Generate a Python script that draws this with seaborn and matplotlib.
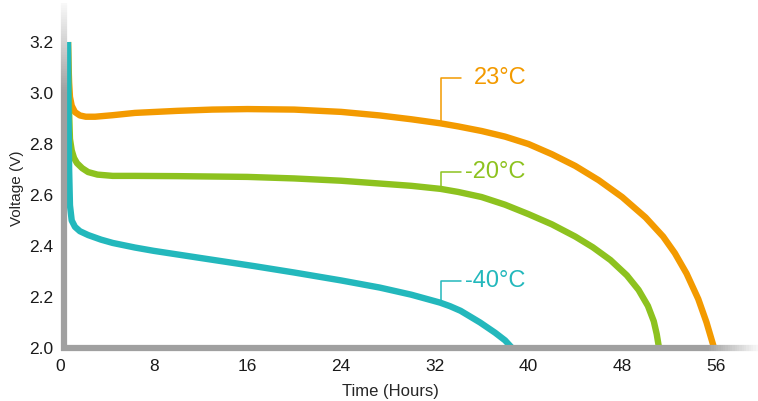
import numpy as np
import pandas as pd
import matplotlib
matplotlib.use("Agg")
import matplotlib.pyplot as plt
import seaborn as sns
from matplotlib.collections import LineCollection
from matplotlib.colors import to_rgb

sns.set_style("white")
plt.rcParams['font.family'] = ['Liberation Sans', 'DejaVu Sans']

# discharge curves (hours, volts)
hours_23 = [0.68, 0.72, 0.78, 0.85, 1.0, 1.28, 1.7, 2.2, 3.0, 4.5, 6.4, 10.0, 13.0, 16.0, 20.0, 24.0,
            27.3, 30.0, 32.5, 34.0, 36.0, 38.0, 40.0, 42.0, 44.0, 46.0, 48.0, 50.0, 51.5, 52.5, 53.5,
            54.5, 55.2, 55.85]
volts_23 = [3.20, 3.12, 3.04, 2.985, 2.95, 2.925, 2.912, 2.907, 2.907, 2.913, 2.922, 2.930, 2.935, 2.937, 2.935, 2.926,
            2.912, 2.897, 2.881, 2.869, 2.851, 2.829, 2.800, 2.760, 2.714, 2.658, 2.592, 2.512, 2.437, 2.372, 2.292,
            2.192, 2.101, 2.0]

hours_m20 = [0.68, 0.72, 0.78, 0.85, 1.0, 1.2, 1.45, 1.9, 2.4, 3.2, 4.5, 6.4, 10.0, 16.0, 20.0, 24.0, 27.3, 30.0,
             32.5, 34.0, 36.0, 38.0, 40.0, 42.0, 44.0, 45.5, 47.0, 48.4, 49.4, 50.2, 50.7, 50.95, 51.15]
volts_m20 = [3.20, 3.05, 2.92, 2.82, 2.775, 2.745, 2.725, 2.705, 2.69, 2.68, 2.675, 2.675, 2.674, 2.671, 2.665, 2.656, 2.645, 2.636,
             2.624, 2.612, 2.592, 2.562, 2.525, 2.485, 2.437, 2.395, 2.345, 2.285, 2.228, 2.165, 2.105, 2.055, 2.0]

hours_m40 = [0.68, 0.72, 0.78, 0.85, 1.0, 1.28, 1.7, 2.4, 3.5, 4.5, 6.4, 8.0, 12.0, 16.6, 20.0, 24.0, 27.3, 30.0,
             32.45, 33.3, 34.2, 35.0, 35.87, 37.15, 38.0, 38.6]
volts_m40 = [3.20, 2.95, 2.70, 2.56, 2.50, 2.475, 2.458, 2.443, 2.425, 2.412, 2.394, 2.381, 2.353, 2.321, 2.296, 2.265, 2.237, 2.209,
             2.178, 2.164, 2.146, 2.124, 2.100, 2.060, 2.030, 2.0]

labels = ['23°C', '-20°C', '-40°C']
colors = ['#F39A00', '#8DC21F', '#23B8BC']
label_volts = [3.059, 2.69, 2.263]

df = pd.concat([
    pd.DataFrame({'hours': hours_23, 'volts': volts_23, 'temp': labels[0]}),
    pd.DataFrame({'hours': hours_m20, 'volts': volts_m20, 'temp': labels[1]}),
    pd.DataFrame({'hours': hours_m40, 'volts': volts_m40, 'temp': labels[2]}),
])

fig = plt.figure(figsize=(7.58, 4.01), dpi=100)
ax = fig.add_axes([60 / 758, 53 / 401, 698 / 758, 345 / 401])

sns.lineplot(data=df, x='hours', y='volts', hue='temp', palette=colors,
             hue_order=labels, sort=False, estimator=None, linewidth=4.6,
             legend=False, ax=ax, zorder=3, solid_capstyle='butt',
             solid_joinstyle='round')

ax.set_xlim(0, 59.6)
ax.set_ylim(2.0, 3.353)
for s in ax.spines.values():
    s.set_visible(False)

grey = np.array(to_rgb('#A0A0A0'))
white = np.array([0.98, 0.98, 0.98])

# left axis line, fading out at the top
yy = np.linspace(1.99, 3.353, 200)
cols = []
for v in yy[:-1]:
    t = np.clip((v - 3.0) / 0.353, 0, 1)
    cols.append(grey * (1 - t) + white * t)
segs = [[(0.3, yy[i]), (0.3, yy[i + 1])] for i in range(len(yy) - 1)]
ax.add_collection(LineCollection(segs, colors=cols, linewidths=4.5, zorder=4,
                                 clip_on=False, capstyle='butt'))

# bottom axis line, fading out at the right
xx = np.linspace(0.05, 59.6, 300)
cols = []
for v in xx[:-1]:
    t = np.clip((v - 55.2) / 4.4, 0, 1)
    cols.append(grey * (1 - t) + white * t)
segs = [[(xx[i], 2.0), (xx[i + 1], 2.0)] for i in range(len(xx) - 1)]
ax.add_collection(LineCollection(segs, colors=cols, linewidths=4.5, zorder=4,
                                 clip_on=False, capstyle='butt'))

# leader lines and labels
series_x = [hours_23, hours_m20, hours_m40]
series_y = [volts_23, volts_m20, volts_m40]
for lab, col, ly, hx, hy in zip(labels, colors, label_volts, series_x, series_y):
    cy = np.interp(32.5, hx, hy)
    ax.plot([32.5, 32.5, 34.2], [cy, ly, ly], color=col, lw=1.1, zorder=2)
    tx = 35.35 if lab == '23°C' else 34.6
    ax.text(tx, ly, lab, color=col, fontsize=17, va='center', ha='left')

ax.set_xticks(range(0, 57, 8))
ax.set_yticks([2.0, 2.2, 2.4, 2.6, 2.8, 3.0, 3.2])
ax.set_yticklabels(['2.0', '2.2', '2.4', '2.6', '2.8', '3.0', '3.2'])
ax.tick_params(axis='x', length=0, pad=8, labelsize=12.5, colors='#1a1a1a')
ax.tick_params(axis='y', length=0, pad=5, labelsize=12.5, colors='#1a1a1a')

ax.set_xlabel('Time (Hours)', fontsize=12)
ax.set_ylabel('Voltage (V)', fontsize=11)
ax.xaxis.set_label_coords(330 / 698, -36 / 345)
ax.yaxis.set_label_coords(-36 / 698, 160 / 345)

fig.savefig('out.png', dpi=100)
